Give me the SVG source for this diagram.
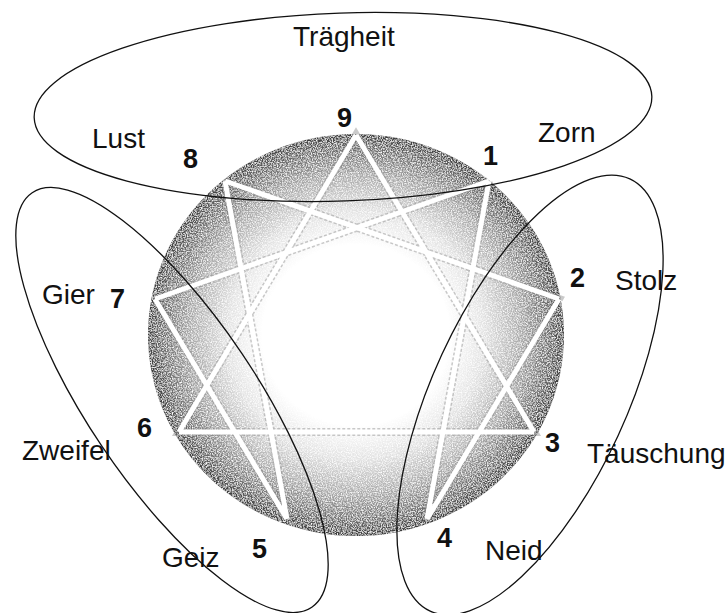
<svg xmlns="http://www.w3.org/2000/svg" width="726" height="613" viewBox="0 0 726 613">
  <defs>
    <radialGradient id="discGrad" cx="0.5" cy="0.5" r="0.5">
      <stop offset="0" stop-color="#ffffff"/>
      <stop offset="0.45" stop-color="#ffffff"/>
      <stop offset="0.62" stop-color="#e2e2e2"/>
      <stop offset="0.8" stop-color="#a8a8a8"/>
      <stop offset="0.93" stop-color="#6a6a6a"/>
      <stop offset="1" stop-color="#3c3c3c"/>
    </radialGradient>
    <filter id="grain" x="0" y="0" width="1" height="1">
      <feTurbulence type="fractalNoise" baseFrequency="0.8" numOctaves="2" seed="3" result="noise"/>
      <feColorMatrix in="noise" type="matrix" values="0 0 0 0 1  0 0 0 0 1  0 0 0 0 1  0 0 0 -2.2 1.35" result="spots"/>
      <feComposite in="spots" in2="SourceGraphic" operator="in" result="clipped"/>
      <feMerge><feMergeNode in="SourceGraphic"/><feMergeNode in="clipped"/></feMerge>
    </filter>
  </defs>
  <style>
    .num { font-family: "Liberation Sans", Arial, sans-serif; font-weight: bold; font-size: 27px; fill: #111; }
    .word { font-family: "Liberation Sans", Arial, sans-serif; font-size: 28px; fill: #111; }
    .ring { fill: none; stroke: #111; stroke-width: 1.3; }
    .edge { stroke: #ffffff; stroke-width: 5; stroke-linecap: butt; fill: none; }
    .edgeShade { stroke: #8a8a8a; stroke-width: 8; stroke-dasharray: 3 2; opacity: 0.45; fill: none; }
  </style>

  <g id="disc">
    <ellipse cx="356" cy="335" rx="208" ry="201" fill="url(#discGrad)" filter="url(#grain)"/>
  </g>

  <g id="connectors">
    <path class="edgeShade" d="M356,135 L534,432 L179,432 Z M489,181 L427,519 L559,299 L225,181 L287,519 L155,299 Z"/>
    <path class="edge" d="M356,135 L534,432 M534,432 L179,432 M179,432 L356,135 M489,181 L427,519 M427,519 L559,299 M559,299 L225,181 M225,181 L287,519 M287,519 L155,299 M155,299 L489,181"/>
  </g>

  <g id="group-traegheit">
    <ellipse class="ring" cx="343" cy="107" rx="309" ry="94" transform="rotate(-2 343 107)"/>
    <text class="word" x="293" y="46">Trägheit</text>
    <text class="word" x="92" y="148">Lust</text>
    <text class="word" x="538" y="142">Zorn</text>
  </g>

  <g id="group-left">
    <ellipse class="ring" cx="172" cy="400" rx="250" ry="84" transform="rotate(56 172 400)"/>
    <text class="word" x="42" y="304">Gier</text>
    <text class="word" x="22" y="460">Zweifel</text>
    <text class="word" x="162" y="567">Geiz</text>
  </g>

  <g id="group-right">
    <ellipse class="ring" cx="530" cy="395" rx="238" ry="97" transform="rotate(-65.2 530 395)"/>
    <text class="word" x="615" y="290">Stolz</text>
    <text class="word" x="587" y="463">Täuschung</text>
    <text class="word" x="485" y="560">Neid</text>
  </g>

  <g id="point-9"><text class="num" x="337" y="127">9</text></g>
  <g id="point-1"><text class="num" x="483" y="165">1</text></g>
  <g id="point-2"><text class="num" x="570" y="287">2</text></g>
  <g id="point-3"><text class="num" x="545" y="452">3</text></g>
  <g id="point-4"><text class="num" x="437" y="547">4</text></g>
  <g id="point-5"><text class="num" x="252" y="558">5</text></g>
  <g id="point-6"><text class="num" x="137" y="437">6</text></g>
  <g id="point-7"><text class="num" x="110" y="308">7</text></g>
  <g id="point-8"><text class="num" x="183" y="168">8</text></g>
</svg>
